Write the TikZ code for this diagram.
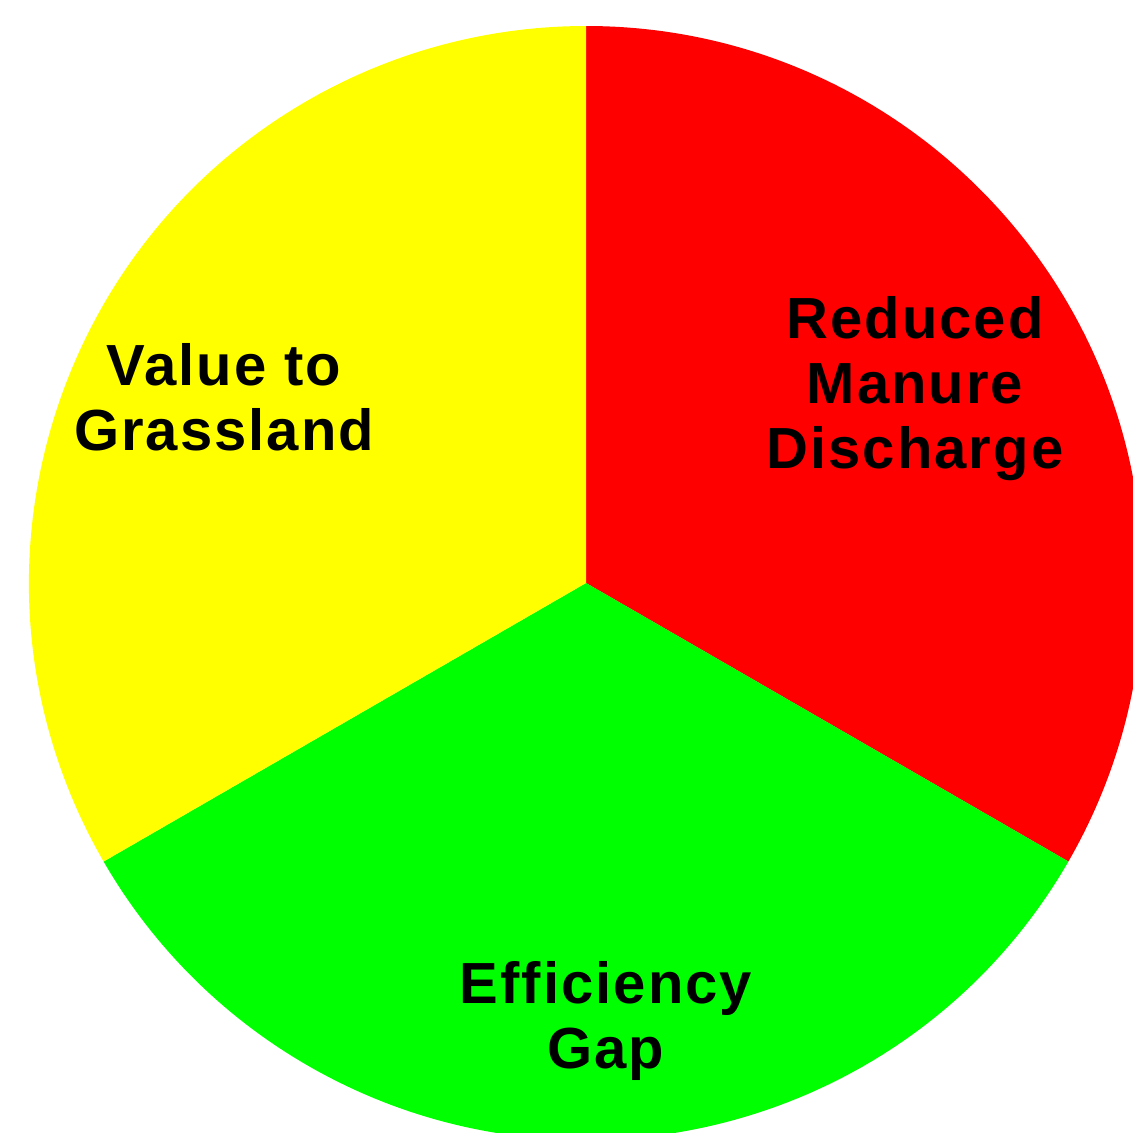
\documentclass[tikz,border=0pt]{standalone}
\usepackage{fontspec}
\setmainfont{Liberation Sans}[LetterSpace=3.5]
\definecolor{pieRed}{RGB}{255,0,0}
\definecolor{pieGreen}{RGB}{0,255,0}
\definecolor{pieYellow}{RGB}{255,255,0}
\begin{document}
\begin{tikzpicture}[x=1pt,y=-1pt,
  lbl/.style={align=center,inner sep=0pt,anchor=base,font=\bfseries\fontsize{58}{65}\selectfont}]
\useasboundingbox (0,0) rectangle (1133,1133);
\clip (0,0) rectangle (1133,1133);
\coordinate (c) at (586,583);
\fill[pieRed] (c) -- ++(0,-557) arc[start angle=-90,end angle=30,radius=557] -- cycle;
\fill[pieGreen] (c) -- ++(30:557) arc[start angle=30,end angle=150,radius=557] -- cycle;
\fill[pieYellow] (c) -- ++(150:557) arc[start angle=150,end angle=270,radius=557] -- cycle;
\node[lbl] (red) at (915,468) {Reduced\\Manure\\Discharge};
\node[lbl] (yel) at (224,450) {Value to\\Grassland};
\node[lbl] (grn) at (606,1068) {Efficiency\\Gap};
\end{tikzpicture}
\end{document}
